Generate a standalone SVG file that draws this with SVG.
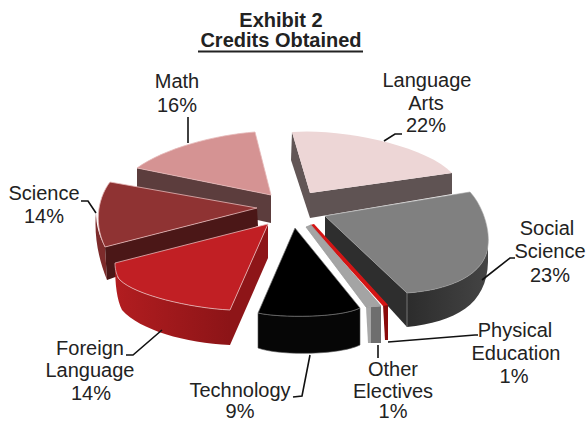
<svg xmlns="http://www.w3.org/2000/svg" width="586" height="423" viewBox="0 0 586 423">
<style>
text{font-family:"Liberation Sans",Arial,sans-serif;fill:#222;}
.lbl{font-size:20px;text-anchor:middle;}
.ttl{font-size:20px;font-weight:bold;text-anchor:middle;}
.edge{stroke:#e6b9b9;stroke-width:0.8;stroke-linejoin:round;}
.gedge{stroke:#9a9a9a;stroke-width:0.8;stroke-linejoin:round;}
.lead{fill:none;stroke:#111;stroke-width:1.6;}
</style>
<defs>
<linearGradient id="flrim" x1="0" y1="0" x2="1" y2="0">
<stop offset="0" stop-color="#b21d20"/><stop offset="1" stop-color="#8c1417"/>
</linearGradient>
<linearGradient id="ssrim" x1="0" y1="0" x2="1" y2="0">
<stop offset="0" stop-color="#2c2c2c"/><stop offset="1" stop-color="#444"/>
</linearGradient>
</defs>
<rect width="586" height="423" fill="#fff"/>
<g id="title">
<text class="ttl" x="281" y="27">Exhibit 2</text>
<text class="ttl" x="281" y="47">Credits Obtained</text>
<rect x="198" y="50.5" width="165" height="2" fill="#222"/>
</g>
<g id="math">
<path d="M137,168 L271,195 L271,223 L137,193 Z" fill="#5c3d3d"/>
<path class="edge" d="M137,168 C165,148 215,135 255,132 L271,195 Z" fill="#d59393"/>
<text class="lbl" x="177" y="88">Math</text>
<text class="lbl" x="177" y="112">16%</text>
</g>
<g id="language-arts">
<path d="M292,132 L310,193 L310,218 L291,160 Z" fill="#625656"/>
<path d="M310,193 L452,173 L452,194 L310,218 Z" fill="#5f5353"/>
<path d="M292,132 C340,128 425,145 452,173 L310,193 Z" fill="#edd6d6"/>
<text class="lbl" x="427" y="87">Language</text>
<text class="lbl" x="426" y="110">Arts</text>
<text class="lbl" x="426" y="132">22%</text>
</g>
<g id="science">
<path d="M96,212 C94,235 98,258 107,280 L105,247 C99,236 96,225 96,212 Z" fill="#7d2b2b"/>
<path d="M105,247 L257,208 L258,226 L107,280 Z" fill="#4b1717"/>
<path class="edge" d="M110,182 C100,195 92,220 105,247 L257,208 Z" fill="#8f3333"/>
<text class="lbl" x="44" y="200">Science</text>
<text class="lbl" x="44" y="223">14%</text>
</g>
<g id="social-science">
<path d="M325,216 L407,293 L407,327 L325,237 Z" fill="#2e2e2e"/>
<path d="M407,293 C450,290 486,275 488,245 L488,262 C487,305 455,322 407,327 Z" fill="url(#ssrim)"/>
<path d="M325,216 L470,192 C482,205 490,228 488,245 C486,275 450,290 407,293 Z" fill="#808080" stroke="#a0a0a0" stroke-width="0.6"/>
<line x1="407" y1="293" x2="407" y2="327" stroke="#888" stroke-width="0.8"/>
<text class="lbl" x="547" y="235">Social</text>
<text class="lbl" x="550" y="258">Science</text>
<text class="lbl" x="550" y="282">23%</text>
</g>
<g id="foreign-language">
<path d="M268,224 L230,310 L230,345 L268,258 Z" fill="#8e1518"/>
<path d="M115,263 C115,272 117,278 120,280 C135,295 190,308 230,310 L230,345 C185,343 140,330 122,310 C117,300 115,285 115,263 Z" fill="url(#flrim)"/>
<path class="edge" d="M115,263 L268,224 L230,310 C190,308 135,295 120,280 C117,277 115,270 115,263 Z" fill="#c11f24"/>
<text class="lbl" x="90" y="355">Foreign</text>
<text class="lbl" x="90" y="377">Language</text>
<text class="lbl" x="91" y="400">14%</text>
</g>
<g id="physical-education">
<path d="M383,305 L388,305 L388,340 L385,340 Z" fill="#8a0a0a"/>
<path d="M310,225 L314,224 L388,305 L383,306 Z" fill="#d41515"/>
<text class="lbl" x="515" y="337">Physical</text>
<text class="lbl" x="516" y="360">Education</text>
<text class="lbl" x="514" y="383">1%</text>
</g>
<g id="other-electives">
<path d="M366,307 L371,307 L371,343 L368,343 Z" fill="#a8a8a8"/>
<path d="M371,307 L381,306 L381,343 L371,343 Z" fill="#6e6e6e"/>
<path class="gedge" d="M306,227 L311,225 L381,306 L366,307 Z" fill="#a4a4a4"/>
<text class="lbl" x="393" y="376">Other</text>
<text class="lbl" x="393" y="398">Electives</text>
<text class="lbl" x="393" y="418">1%</text>
</g>
<g id="technology">
<path d="M258,313 C280,318 340,318 360,308 L360,345 C340,355 280,356 258,348 Z" fill="#060606" stroke="#555" stroke-width="0.6"/>
<path d="M295,228 L360,308 C340,318 280,318 258,313 Z" fill="#000" stroke="#777" stroke-width="0.7"/>
<text class="lbl" x="240" y="397">Technology</text>
<text class="lbl" x="240" y="418">9%</text>
</g>
<g id="connectors">
<polyline class="lead" points="188,117 188,143"/>
<polyline class="lead" points="384,141 395,134 402,134"/>
<polyline class="lead" points="81,201 88,201 96,213"/>
<polyline class="lead" points="126,355 133,355 162,330"/>
<polyline class="lead" points="293,397 302,396 310,355"/>
<polyline class="lead" points="378,345 378,358"/>
<polyline class="lead" points="388,342 475,335 478,335"/>
<polyline class="lead" points="515,258 510,258 482,280"/>
</g>
</svg>
